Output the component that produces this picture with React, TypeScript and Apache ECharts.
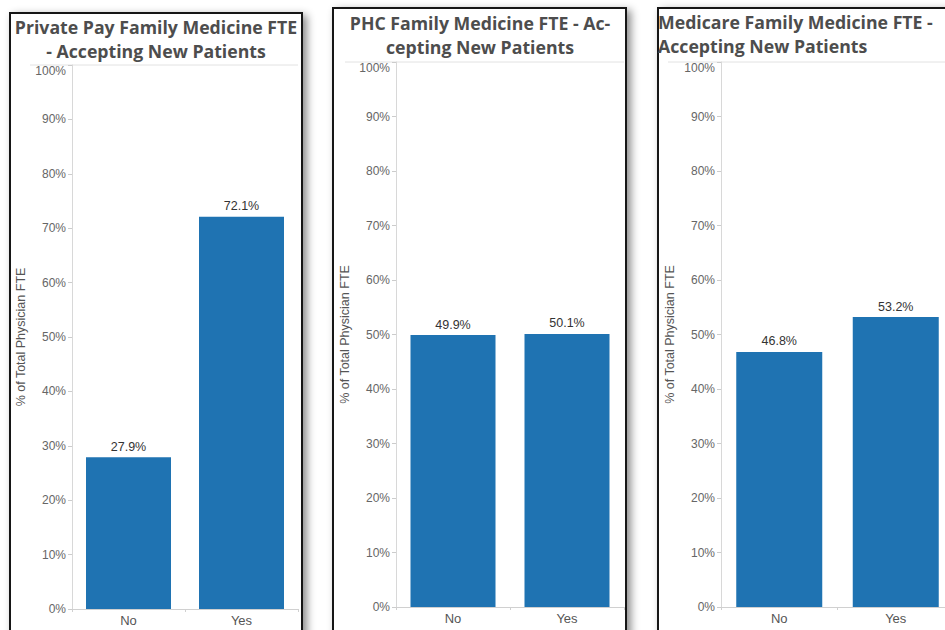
import React, { useEffect, useRef } from "react";
import * as echarts from "echarts";

const categories = ["No", "Yes"];
const privatePayValues = [27.9, 72.1];
const phcValues = [49.9, 50.1];
const medicareValues = [46.8, 53.2];
const panelTitles = [
  "Private Pay Family Medicine FTE\n- Accepting New Patients",
  "PHC Family Medicine FTE - Ac-\ncepting New Patients",
  "Medicare Family Medicine FTE -\nAccepting New Patients",
];
const yAxisName = "% of Total Physician FTE";

const BAR_COLOR = "#1f73b2";
const CHART_W = 975;

export default function App() {
  const ref = useRef<HTMLDivElement>(null);
  useEffect(() => {
    if (!ref.current) return;
    const chart = echarts.init(ref.current, null, { renderer: "svg" });
    const seriesData = [privatePayValues, phcValues, medicareValues];
    const grids = [
      { left: 72, top: 65, width: 226, bottom: 21 },
      { left: 396, top: 62, width: 228, bottom: 23 },
      { left: 721, top: 62, width: 233, bottom: 23 },
    ];
    const barWidths = [85, 85, 86];
    const titleCfg = [
      { left: 156, top: 15, textAlign: "center" },
      { left: 480, top: 11, textAlign: "center" },
      { left: 658, top: 10, textAlign: "left" },
    ];
    const panels = [
      { x: 10, y: 13, w: 292, h: 640 },
      { x: 333, y: 8, w: 293, h: 640 },
      { x: 658, y: 8, w: 330, h: 640 },
    ];
    const topLines = [
      { x1: 30, x2: 298, y: 65 },
      { x1: 345, x2: 624, y: 62 },
      { x1: 668, x2: 960, y: 62 },
    ];
    const graphics: any[] = [];
    panels.forEach((p) => {
      graphics.push({
        type: "rect",
        z: -10,
        shape: { x: p.x, y: p.y, width: p.w, height: p.h },
        style: {
          fill: "#ffffff",
          stroke: "#151515",
          lineWidth: 2,
          shadowBlur: 8,
          shadowOffsetX: 4,
          shadowOffsetY: 3,
          shadowColor: "rgba(0,0,0,0.45)",
        },
      });
    });
    topLines.forEach((l) => {
      graphics.push({
        type: "line",
        z: -5,
        shape: { x1: l.x1, y1: l.y, x2: l.x2, y2: l.y },
        style: { stroke: "#e2e2e2", lineWidth: 1 },
      });
    });

    const option: any = {
      animation: false,
      backgroundColor: "#ffffff",
      graphic: graphics,
      title: panelTitles.map((t, i) => ({
        text: t,
        left: titleCfg[i].left,
        top: titleCfg[i].top,
        textAlign: titleCfg[i].textAlign,
        padding: 0,
        textStyle: {
          fontFamily: "Open Sans",
          fontWeight: "bold",
          fontSize: 17.7,
          lineHeight: 24,
          color: "#4d4d4d",
        },
      })),
      grid: grids.map((g) => ({ ...g, containLabel: false })),
      xAxis: grids.map((_, i) => ({
        type: "category",
        gridIndex: i,
        data: categories,
        axisLine: { show: true, lineStyle: { color: "#d0d0d0" } },
        axisTick: { show: true, length: 3, lineStyle: { color: "#d0d0d0" } },
        axisLabel: {
          fontFamily: "Liberation Sans",
          fontSize: 13,
          color: "#555555",
          margin: 5,
        },
      })),
      yAxis: grids.map((_, i) => ({
        type: "value",
        gridIndex: i,
        min: 0,
        max: 100,
        interval: 10,
        name: yAxisName,
        nameLocation: "middle",
        nameGap: 45,
        nameRotate: 90,
        nameTextStyle: {
          fontFamily: "Liberation Sans",
          fontSize: 12.5,
          color: "#555555",
        },
        axisLine: { show: true, lineStyle: { color: "#d8d8d8" } },
        axisTick: { show: true, length: 4, lineStyle: { color: "#cccccc" } },
        splitLine: { show: false },
        axisLabel: {
          formatter: "{value}%",
          fontFamily: "Liberation Sans",
          fontSize: 12,
          color: "#666666",
          margin: 6,
          verticalAlignMaxLabel: "top",
        },
      })),
      series: seriesData.map((d, i) => ({
        type: "bar",
        xAxisIndex: i,
        yAxisIndex: i,
        data: d,
        barWidth: barWidths[i],
        itemStyle: { color: BAR_COLOR },
        label: {
          show: true,
          position: "top",
          distance: 4,
          formatter: (p: any) => p.value.toFixed(1) + "%",
          fontFamily: "Liberation Sans",
          fontSize: 12.5,
          color: "#333333",
        },
      })),
    };
    chart.setOption(option);
    return () => chart.dispose();
  }, []);
  return (
    <div
      style={{
        position: "fixed",
        left: 0,
        top: 0,
        width: 945,
        height: 630,
        overflow: "hidden",
      }}
    >
      <div ref={ref} style={{ width: CHART_W, height: 630 }} />
    </div>
  );
}
